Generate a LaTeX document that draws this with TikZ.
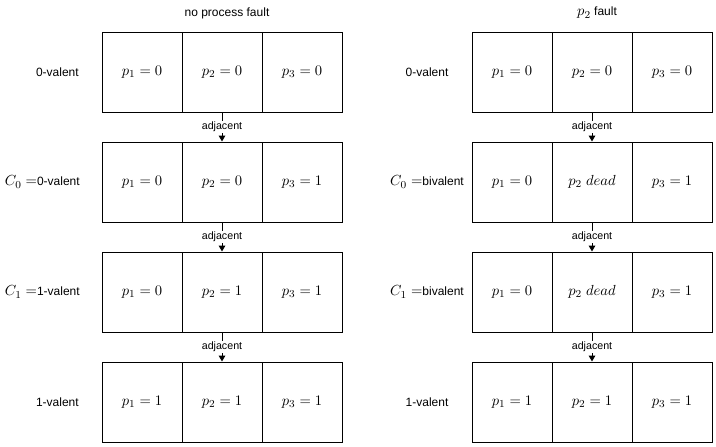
\documentclass[tikz,border=0pt]{standalone}
\usepackage{amsmath}
\usepackage{fontspec}
\newfontfamily\arialfont{Liberation Sans}
\usetikzlibrary{arrows.meta}

\newcommand{\labmath}[1]{{\fontsize{11}{13}\selectfont$#1$}}

\begin{document}
\begin{tikzpicture}[x=0.75pt, y=-0.75pt,
  cell/.style={draw, line width=0.75pt, minimum width=60pt, minimum height=60pt, inner sep=0pt,
               font=\fontsize{11}{13}\selectfont},
  rowlabel/.style={font=\arialfont\fontsize{9}{11}\selectfont, inner sep=0pt},
  adjlabel/.style={font=\arialfont\fontsize{8}{9.6}\selectfont, fill=white, inner sep=1pt},
  adj/.style={line width=0.75pt, -{Triangle[length=4.5pt, width=5pt]}}]
  % fixed frame, same proportions as the page
  \useasboundingbox (0,0) rectangle (716,446);

  % ----- Left: no process fault -----
  \node[rowlabel] (titleL) at (227,13) {no process fault};
  \foreach \row/\y/\a/\b/\c in {1/72/{p_1 = 0}/{p_2 = 0}/{p_3 = 0},
                                2/182/{p_1 = 0}/{p_2 = 0}/{p_3 = 1},
                                3/292/{p_1 = 0}/{p_2 = 1}/{p_3 = 1},
                                4/402/{p_1 = 1}/{p_2 = 1}/{p_3 = 1}} {
    \node[cell] (L\row a) at (142,\y) {$\a$};
    \node[cell] (L\row b) at (222,\y) {$\b$};
    \node[cell] (L\row c) at (302,\y) {$\c$};
  }
  \node[rowlabel, anchor=east] (labL1) at (79,72) {0-valent};
  \node[rowlabel, anchor=east] (labL2) at (80,182) {\labmath{C_0 =}0-valent};
  \node[rowlabel, anchor=east] (labL3) at (80,292) {\labmath{C_1 =}1-valent};
  \node[rowlabel, anchor=east] (labL4) at (79,402) {1-valent};

  % ----- Right: p2 fault -----
  \node[rowlabel] (titleR) at (597,13) {\labmath{p_2} fault};
  \foreach \row/\y/\a/\b/\c in {1/72/{p_1 = 0}/{p_2 = 0}/{p_3 = 0},
                                2/182/{p_1 = 0}/{p_2 \; dead}/{p_3 = 1},
                                3/292/{p_1 = 0}/{p_2 \; dead}/{p_3 = 1},
                                4/402/{p_1 = 1}/{p_2 = 1}/{p_3 = 1}} {
    \node[cell] (R\row a) at (512,\y) {$\a$};
    \node[cell] (R\row b) at (592,\y) {$\b$};
    \node[cell] (R\row c) at (672,\y) {$\c$};
  }
  \node[rowlabel] (labR1) at (427,72) {0-valent};
  \node[rowlabel] (labR2) at (427,182) {\labmath{C_0 =}bivalent};
  \node[rowlabel] (labR3) at (427,292) {\labmath{C_1 =}bivalent};
  \node[rowlabel] (labR4) at (427,402) {1-valent};

  % adjacency arrows between rows
  \foreach \i/\j in {1/2, 2/3, 3/4} {
    \draw[adj] (L\i b.south) -- node[adjlabel] {adjacent} (L\j b.north);
    \draw[adj] (R\i b.south) -- node[adjlabel] {adjacent} (R\j b.north);
  }
\end{tikzpicture}
\end{document}
